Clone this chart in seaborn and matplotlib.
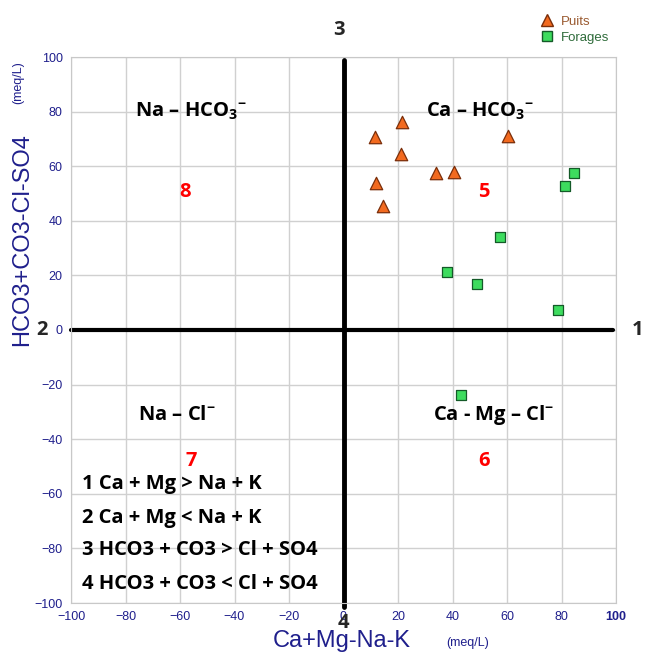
import pandas as pd
import seaborn as sns
import matplotlib.pyplot as plt
from matplotlib.lines import Line2D

# Data (meq/L)
puits_x = [11.6, 21.5, 21.0, 11.9, 14.6, 34.0, 40.7, 60.5]
puits_y = [70.7, 76.3, 64.5, 53.8, 45.6, 57.4, 58.0, 71.2]
forages_x = [84.7, 81.4, 57.4, 38.1, 49.0, 78.7, 43.0]
forages_y = [57.4, 52.8, 34.0, 21.4, 17.0, 7.5, -23.8]

ticks = list(range(-100, 101, 20))
region_labels = [r"Na – HCO$_{\mathbf{3}}$$^{\mathbf{-}}$", r"Ca – HCO$_{\mathbf{3}}$$^{\mathbf{-}}$",
                 r"Na – Cl$^{\mathbf{-}}$", r"Ca - Mg – Cl$^{\mathbf{-}}$"]
region_xy = [(-56, 80), (50, 80), (-61, -31), (55, -31)]
region_nums = ["8", "5", "7", "6"]
region_num_xy = [(-58, 50.5), (51.6, 50.5), (-56, -48), (51.6, -48)]
rules = ["1 Ca + Mg > Na + K", "2 Ca + Mg < Na + K",
         "3 HCO3 + CO3 > Cl + SO4", "4 HCO3 + CO3 < Cl + SO4"]
rules_y = [-56.4, -68.8, -80.6, -93.0]

df = pd.DataFrame({
    "x": puits_x + forages_x,
    "y": puits_y + forages_y,
    "type": ["Puits"] * len(puits_x) + ["Forages"] * len(forages_x),
})

sns.set_style("white")
plt.rcParams["mathtext.fontset"] = "custom"
plt.rcParams["mathtext.rm"] = "Open Sans"
plt.rcParams["mathtext.bf"] = "Open Sans:bold"

navy = "#1f1f8c"
W, H = 646, 653
fig = plt.figure(figsize=(W / 100, H / 100), dpi=100)
ax = fig.add_axes([71 / W, 1 - 603 / H, 545 / W, 546 / H])

ax.set_xlim(-100, 100)
ax.set_ylim(-100, 100)
ax.set_xticks(ticks)
ax.set_yticks(ticks)
ax.grid(True, color="#d0d0d0", lw=1)
ax.set_axisbelow(True)
for s in ax.spines.values():
    s.set_color("#c8c8c8")
ax.tick_params(direction="out", length=4, width=1, color="red",
               labelcolor=navy, labelsize=9, pad=2)
for lab in ax.get_xticklabels() + ax.get_yticklabels():
    lab.set_fontfamily("Liberation Sans")
ax.get_xticklabels()[-1].set_fontweight("bold")

# quadrant axes
ax.plot([-100, 99], [0, 0], color="black", lw=3, clip_on=False, zorder=2)
ax.plot([0, 0], [-101.5, 99], color="black", lw=3.5, clip_on=False, zorder=2)

sns.scatterplot(data=df[df["type"] == "Puits"], x="x", y="y", marker="^", s=80,
                color="#f26a1f", edgecolor="#7a2e0a", linewidth=0.9, ax=ax, zorder=3, legend=False)
sns.scatterplot(data=df[df["type"] == "Forages"], x="x", y="y", marker="s", s=55,
                color="#3ddc5e", edgecolor="#145a28", linewidth=0.9, ax=ax, zorder=3, legend=False)
ax.set_xlabel("")
ax.set_ylabel("")

bold = dict(family=["Open Sans", "DejaVu Sans"], fontweight="bold")
for lab, (x, y) in zip(region_labels, region_xy):
    ax.text(x, y, lab, ha="center", va="center", fontsize=14.5, color="black", **bold)
for n, (x, y) in zip(region_nums, region_num_xy):
    ax.text(x, y, n, ha="center", va="center", fontsize=14.5, color="red", **bold)
for r, y in zip(rules, rules_y):
    ax.text(-96, y, r, ha="left", va="center", fontsize=14.5, color="black", **bold)

# quadrant numbers (figure pixel positions)
for t, px, py in [("3", 339, 30), ("1", 638, 330), ("2", 42, 330), ("4", 343, 623)]:
    fig.text(px / W, 1 - py / H, t, ha="center", va="center", fontsize=14.5, **bold)

# axis titles
fig.text(22 / W, 1 - 240 / H, "HCO3+CO3-Cl-SO4", rotation=90, ha="center", va="center",
         fontsize=17, color=navy, family="Liberation Sans")
fig.text(18 / W, 1 - 83 / H, "(meq/L)", rotation=90, ha="center", va="center",
         fontsize=9, color=navy, family="Liberation Sans")
fig.text(342 / W, 1 - 641 / H, "Ca+Mg-Na-K", ha="center", va="center",
         fontsize=17, color=navy, family="Liberation Sans")
fig.text(468 / W, 1 - 643 / H, "(meq/L)", ha="center", va="center",
         fontsize=9, color=navy, family="Liberation Sans")

handles = [
    Line2D([], [], marker="^", ls="", markersize=9, markerfacecolor="#f26a1f",
           markeredgecolor="#7a2e0a", label="Puits"),
    Line2D([], [], marker="s", ls="", markersize=7, markerfacecolor="#3ddc5e",
           markeredgecolor="#145a28", label="Forages"),
]
fig.legend(handles=handles, loc="upper left", bbox_to_anchor=(534 / W, 1 - 9 / H),
           frameon=False, handlelength=1, handletextpad=0.5,
           labelspacing=0.3, borderpad=0, labelcolor=["#9a5a30", "#2e6b3a"],
           prop={"family": "Liberation Sans", "size": 9.5})

fig.savefig("out.png", dpi=100)
